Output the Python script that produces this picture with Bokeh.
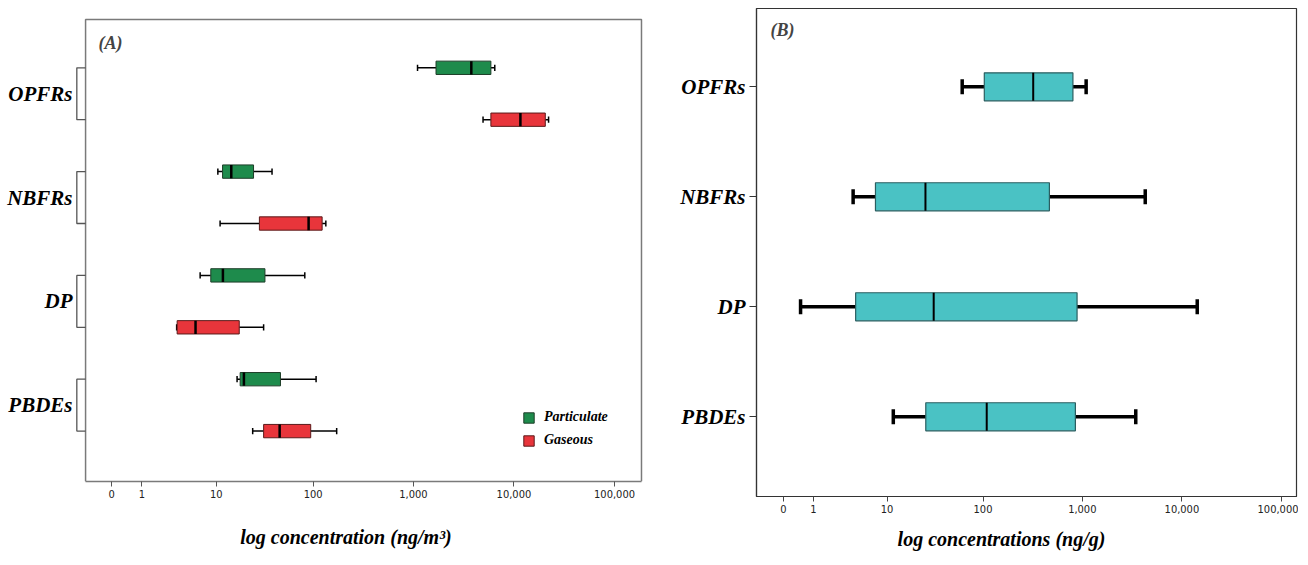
import numpy as np
from bokeh.plotting import figure
from bokeh.layouts import row
from bokeh.models import (Range1d, FixedTicker, CustomJSTickFormatter, Label,
                          Legend, LegendItem, ColumnDataSource, Spacer)
from bokeh.embed import file_html
from bokeh.resources import INLINE

CATEGORIES = ["OPFRs", "NBFRs", "DP", "PBDEs"]
PHASES = ["Particulate", "Gaseous"]
TICK_VALUES = [0, 1, 10, 100, 1000, 10000, 100000]

# Panel A (ng/m3): whisker low, Q1, median, Q3, whisker high per category
A_PART_LOW = [1100, 10.4, 6.6, 16.7]
A_PART_Q1 = [1680, 11.7, 8.7, 18.0]
A_PART_MED = [3770, 14.5, 11.8, 19.7]
A_PART_Q3 = [5900, 24.8, 32.5, 46.8]
A_PART_HIGH = [6450, 38.4, 82.4, 107]

A_GAS_LOW = [4930, 11.0, 3.44, 24.3]
A_GAS_Q1 = [5900, 28.5, 3.49, 31.5]
A_GAS_MED = [11600, 90, 5.84, 45.9]
A_GAS_Q3 = [20500, 123, 17.6, 94.5]
A_GAS_HIGH = [22100, 134, 31.5, 172]

# Panel B (ng/g)
B_LOW = [61.4, 4.02, 0.49, 11.7]
B_Q1 = [103, 7.41, 4.32, 25.9]
B_MED = [321, 25.7, 31.3, 109]
B_Q3 = [805, 467, 886, 852]
B_HIGH = [1093, 4285, 14250, 3442]

GREEN = "#1e8b4c"
RED = "#e8353b"
TEAL = "#4ac2c4"
SERIF = "Liberation Serif"
TICKFONT = "DejaVu Sans Condensed"
NB = "\u00a0"


def tr(v):
    return np.log10(np.asarray(v, dtype=float) + 1.0)


tick_fmt = CustomJSTickFormatter(code="""
const v = Math.round(Math.pow(10, tick) - 1);
return v.toLocaleString('en-US');
""")


def draw_box(p, ys, low, q1, med, q3, high, color, box_h, cap_h, wlw, blw, mlw, outline):
    src = ColumnDataSource(dict(
        y=ys, low=tr(low), q1=tr(q1), med=tr(med), q3=tr(q3), high=tr(high),
        ytop=np.asarray(ys) - cap_h / 2, ybot=np.asarray(ys) + cap_h / 2,
        btop=np.asarray(ys) - box_h / 2, bbot=np.asarray(ys) + box_h / 2,
    ))
    p.segment(x0="low", y0="y", x1="q1", y1="y", source=src, line_color="black", line_width=wlw)
    p.segment(x0="q3", y0="y", x1="high", y1="y", source=src, line_color="black", line_width=wlw)
    p.segment(x0="low", y0="ytop", x1="low", y1="ybot", source=src, line_color="black", line_width=wlw)
    p.segment(x0="high", y0="ytop", x1="high", y1="ybot", source=src, line_color="black", line_width=wlw)
    r = p.hbar(y="y", left="q1", right="q3", height=box_h, source=src, fill_color=color,
               line_color=outline, line_width=blw)
    p.segment(x0="med", y0="btop", x1="med", y1="bbot", source=src, line_color="black", line_width=mlw)
    return r


def style_xaxis(p, label, standoff):
    p.xaxis.ticker = FixedTicker(ticks=list(tr(TICK_VALUES)))
    p.xaxis.formatter = tick_fmt
    p.xaxis.major_tick_out = 5
    p.xaxis.major_tick_in = 0
    p.xaxis.minor_tick_line_color = None
    p.xaxis.major_label_text_font = TICKFONT
    p.xaxis.major_label_text_font_size = "11px"
    p.xaxis.major_label_text_color = "#222222"
    p.xaxis.major_label_standoff = 3
    p.xaxis.axis_label = label
    p.xaxis.axis_label_text_font = SERIF
    p.xaxis.axis_label_text_font_style = "bold italic"
    p.xaxis.axis_label_text_font_size = "20px"
    p.xaxis.axis_label_text_color = "black"
    p.xaxis.axis_label_standoff = standoff


def style_yaxis_labels(p):
    p.yaxis.minor_tick_line_color = None
    p.yaxis.major_label_text_font = SERIF
    p.yaxis.major_label_text_font_style = "bold italic"
    p.yaxis.major_label_text_font_size = "21px"
    p.yaxis.major_label_text_color = "black"


# ---------------- Panel A ----------------
pa = figure(frame_width=570, frame_height=473, min_border_left=60, min_border_right=15,
            min_border_top=8, min_border_bottom=60, output_backend="svg",
            toolbar_location=None, x_range=Range1d(-0.378, 5.288),
            y_range=Range1d(7.971, -1.1426))
pa.outline_line_color = None
pa.xgrid.grid_line_color = None
pa.ygrid.grid_line_color = None

FL_A, FR_A = -0.258, 5.268
n = len(CATEGORIES)
y_part = [2 * i for i in range(n)]
y_gas = [2 * i + 1 for i in range(n)]

# frame (left, top, right)
pa.line(x=[FL_A, FL_A, FR_A, FR_A], y=[7.971, -0.93, -0.93, 7.971], line_color="#7a7a7a", line_width=1.5)
# brackets
for i in range(n):
    pa.line(x=[FL_A, -0.345, -0.345, FL_A], y=[y_part[i], y_part[i], y_gas[i], y_gas[i]],
            line_color="#555555", line_width=1.3)

rp = draw_box(pa, y_part, A_PART_LOW, A_PART_Q1, A_PART_MED, A_PART_Q3, A_PART_HIGH,
              GREEN, 0.257, 0.12, 1.5, 1.0, 2.5, "#1d3d28")
rg = draw_box(pa, y_gas, A_GAS_LOW, A_GAS_Q1, A_GAS_MED, A_GAS_Q3, A_GAS_HIGH,
              RED, 0.257, 0.12, 1.5, 1.0, 2.5, "#5a1a1a")

style_xaxis(pa, "log concentration (ng/m³)" + NB * 5, 25)
pa.xaxis.bounds = (FL_A, FR_A)
pa.xaxis.axis_line_color = "#7a7a7a"
pa.xaxis.axis_line_width = 1.5
pa.xaxis.major_tick_line_color = "#555555"

pa.yaxis.ticker = FixedTicker(ticks=[2 * i + 0.5 for i in range(n)])
pa.yaxis.formatter = CustomJSTickFormatter(args=dict(names=CATEGORIES),
                                           code="return names[Math.round((tick - 0.5) / 2)];")
style_yaxis_labels(pa)
pa.yaxis.axis_line_color = None
pa.yaxis.major_tick_line_color = None
pa.yaxis.major_tick_out = 0
pa.yaxis.major_tick_in = 0
pa.yaxis.major_label_standoff = 1

pa.add_layout(Label(x=-0.13, y=-0.47, text="(A)", text_font=SERIF, text_font_style="bold italic",
                    text_font_size="18px", text_baseline="middle", text_align="left"))

legend = Legend(items=[LegendItem(label=PHASES[0], renderers=[rp]),
                       LegendItem(label=PHASES[1], renderers=[rg])],
                location=(449, 31), border_line_color=None, background_fill_alpha=0,
                label_text_font=SERIF, label_text_font_style="bold italic",
                label_text_font_size="14px", label_text_color="black",
                glyph_width=13, glyph_height=13,
                label_height=20, spacing=3, padding=0, margin=0, label_standoff=9)
pa.add_layout(legend)

# ---------------- Panel B ----------------
pb = figure(frame_width=540, frame_height=488, min_border_left=98, min_border_right=2,
            min_border_top=8, min_border_bottom=50, output_backend="svg",
            toolbar_location=None, x_range=Range1d(-0.269, 5.15),
            y_range=Range1d(3.725, -0.712))
pb.outline_line_color = "#333333"
pb.outline_line_width = 1.2
pb.xgrid.grid_line_color = None
pb.ygrid.grid_line_color = None

yb = list(range(n))
draw_box(pb, yb, B_LOW, B_Q1, B_MED, B_Q3, B_HIGH, TEAL, 0.255, 0.136, 3.5, 1.2, 2.0, "#2b5e60")

style_xaxis(pb, "log concentrations (ng/g)" + NB * 10, 12)
pb.xaxis.axis_line_color = "#333333"
pb.xaxis.axis_line_width = 1.2
pb.xaxis.major_tick_line_color = "#444444"

pb.yaxis.ticker = FixedTicker(ticks=yb)
pb.yaxis.formatter = CustomJSTickFormatter(args=dict(names=CATEGORIES),
                                           code="return names[Math.round(tick)];")
style_yaxis_labels(pb)
pb.yaxis.axis_line_color = "#333333"
pb.yaxis.axis_line_width = 1.2
pb.yaxis.major_tick_line_color = "#333333"
pb.yaxis.major_tick_out = 7
pb.yaxis.major_tick_in = 0
pb.yaxis.major_label_standoff = 4

pb.add_layout(Label(x=-0.128, y=-0.512, text="(B)", text_font=SERIF, text_font_style="bold italic",
                    text_font_size="18px", text_baseline="middle", text_align="left"))

layout = row(Spacer(width=4, height=10), pa, pb, spacing=0)
open("out.html", "w").write(file_html(layout, INLINE))
